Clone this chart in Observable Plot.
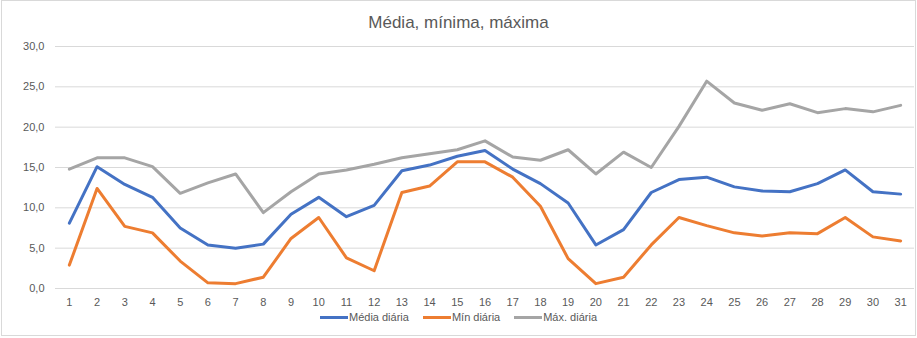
<!DOCTYPE html>
<html>
<head>
<meta charset="utf-8">
<script src="https://cdn.jsdelivr.net/npm/d3@7"></script>
<script src="https://cdn.jsdelivr.net/npm/@observablehq/plot@0.6"></script>
<style>
  html, body { margin: 0; padding: 0; background: #fff; }
  #chart { position: relative; width: 917px; height: 338px; overflow: hidden; font-family: "Liberation Sans", Arial, sans-serif; }
  #border { position: absolute; left: 1px; top: 0; width: 915px; height: 336px; border: 1px solid #d9d9d9; box-sizing: border-box; pointer-events: none; }
  #title { position: absolute; left: 0; top: 13px; width: 917px; text-align: center; font-size: 17px; color: #595959; line-height: 20px; }
  #plot { position: absolute; left: 0; top: 36px; }
  #legend { position: absolute; left: 0; top: 310px; width: 917px; display: flex; justify-content: center; align-items: center; font-size: 11px; color: #595959; line-height: 14px; }
  .item { display: flex; align-items: center; margin: 0 7px; }
  .swatch { width: 28px; height: 3px; margin-right: 1px; }
</style>
</head>
<body>
<div id="chart">
  <div id="title">Média, mínima, máxima</div>
  <div id="plot"></div>
  <div id="legend"></div>
  <div id="border"></div>
</div>
<script>
const days = [1,2,3,4,5,6,7,8,9,10,11,12,13,14,15,16,17,18,19,20,21,22,23,24,25,26,27,28,29,30,31];
const media = [8.1,15.1,12.9,11.3,7.5,5.4,5.0,5.5,9.2,11.3,8.9,10.3,14.6,15.3,16.4,17.1,14.8,13.0,10.6,5.4,7.3,11.9,13.5,13.8,12.6,12.1,12.0,13.0,14.7,12.0,11.7];
const minimo = [2.9,12.4,7.7,6.9,3.4,0.7,0.6,1.4,6.2,8.8,3.8,2.2,11.9,12.7,15.7,15.7,13.8,10.2,3.7,0.6,1.4,5.4,8.8,7.8,6.9,6.5,6.9,6.8,8.8,6.4,5.9];
const maximo = [14.8,16.2,16.2,15.1,11.8,13.1,14.2,9.4,12.0,14.2,14.7,15.4,16.2,16.7,17.2,18.3,16.3,15.9,17.2,14.2,16.9,15.0,20.1,25.7,23.0,22.1,22.9,21.8,22.3,21.9,22.7];
const yTicks = [0,5,10,15,20,25,30];
const seriesNames = ["Média diária","Mín diária","Máx. diária"];
const seriesColors = ["#4472C4","#ED7D31","#A5A5A5"];

const seriesValues = [media, minimo, maximo];
const data = [];
seriesNames.forEach((name, si) => {
  days.forEach((d, i) => data.push({day: d, value: seriesValues[si][i], series: name}));
});

const fmt = v => v.toFixed(1).replace(".", ",");

const plot = Plot.plot({
  width: 917,
  height: 276,
  marginTop: 10,
  marginBottom: 24,
  marginLeft: 55,
  marginRight: 3,
  style: {fontFamily: '"Liberation Sans", Arial, sans-serif', fontSize: "11px", color: "#595959", background: "transparent"},
  x: {type: "linear", domain: [0.5, 31.5], ticks: days, tickFormat: d => String(d), label: null, tickSize: 0, tickPadding: 10},
  y: {domain: [0, 30], ticks: yTicks, tickFormat: fmt, label: null, tickSize: 0, tickPadding: 11},
  color: {domain: seriesNames, range: seriesColors},
  marks: [
    Plot.ruleY(yTicks, {stroke: "#d9d9d9", strokeWidth: 1}),
    Plot.line(data, {x: "day", y: "value", z: "series", stroke: "series", strokeWidth: 3, strokeLinejoin: "round", strokeLinecap: "round"})
  ]
});
document.getElementById("plot").appendChild(plot);

const legend = document.getElementById("legend");
seriesNames.forEach((name, i) => {
  const item = document.createElement("div");
  item.className = "item";
  const sw = document.createElement("span");
  sw.className = "swatch";
  sw.style.background = seriesColors[i];
  const t = document.createElement("span");
  t.textContent = name;
  item.appendChild(sw);
  item.appendChild(t);
  legend.appendChild(item);
});
</script>
</body>
</html>
